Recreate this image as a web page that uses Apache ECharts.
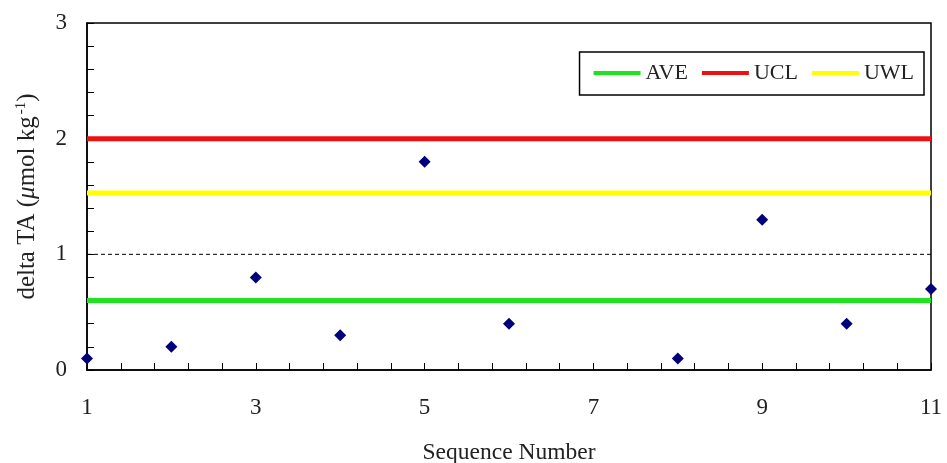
<!DOCTYPE html>
<html>
<head>
<meta charset="utf-8">
<script src="https://cdn.jsdelivr.net/npm/echarts@6/dist/echarts.min.js"></script>
<style>html,body{margin:0;padding:0;background:#fff;}#c{width:947px;height:463px;}</style>
</head>
<body>
<div id="c"></div>
<script>
// Data
var sequenceNumbers = [1, 2, 3, 4, 5, 6, 8, 9, 10, 11];
var deltaTA = [0.1, 0.2, 0.8, 0.3, 1.8, 0.4, 0.1, 1.3, 0.4, 0.7];
var aveValue = 0.6;
var uclValue = 2.0;
var uwlValue = 1.53;
var refValue = 1.0;
var xRange = [1, 11];
var yRange = [0, 3];

var font = '"Liberation Serif", "Times New Roman", serif';
var txt = '#222';

function hline(v) { return [[xRange[0], v], [xRange[1], v]]; }

var chart = echarts.init(document.getElementById('c'));
chart.setOption({
  animation: false,
  backgroundColor: '#fff',
  grid: { left: 87, right: 16, top: 23, bottom: 93, show: true, borderColor: '#000', borderWidth: 1.5,
          backgroundColor: 'transparent', containLabel: false, outerBoundsMode: 'none' },
  legend: {
    right: 23, top: 52,
    data: ['AVE', 'UCL', 'UWL'],
    icon: 'rect', itemWidth: 47, itemHeight: 4, itemGap: 14,
    borderColor: '#000', borderWidth: 1.5, padding: [10, 10, 11, 14],
    textStyle: { fontFamily: font, fontSize: 22, color: txt }
  },
  xAxis: {
    type: 'value', min: xRange[0], max: xRange[1], interval: 2,
    name: 'Sequence Number', nameLocation: 'middle', nameGap: 71,
    nameTextStyle: { fontFamily: font, fontSize: 23.5, color: txt },
    axisLine: { lineStyle: { color: '#000', width: 1.5 } },
    axisTick: { inside: true, length: 7, lineStyle: { color: '#000' } },
    minorTick: { show: true, splitNumber: 5, length: 7, lineStyle: { color: '#000' } },
    axisLabel: { fontFamily: font, fontSize: 23, color: txt, margin: 26 },
    splitLine: { show: false }
  },
  yAxis: {
    type: 'value', min: yRange[0], max: yRange[1], interval: 1,
    name: '{t|delta TA (}{i|μ}{t|mol kg}{s|-1}{t|)}', nameLocation: 'middle', nameGap: 46, nameRotate: 90,
    nameTextStyle: {
      fontFamily: font, fontSize: 25, color: txt,
      rich: {
        t: { fontFamily: font, fontSize: 25, color: txt },
        i: { fontFamily: font, fontSize: 25, color: txt, fontStyle: 'italic' },
        s: { fontFamily: font, fontSize: 15, color: txt, verticalAlign: 'top', padding: [0, 0, 12, 2] }
      }
    },
    axisLine: { lineStyle: { color: '#000', width: 1.5 } },
    axisTick: { inside: true, length: 7, lineStyle: { color: '#000' } },
    minorTick: { show: true, splitNumber: 5, length: 7, lineStyle: { color: '#000' } },
    axisLabel: { fontFamily: font, fontSize: 23, color: txt, margin: 20 },
    splitLine: { show: false }
  },
  series: [
    { name: 'REF', type: 'line', data: hline(refValue), symbol: 'none', silent: true,
      lineStyle: { color: '#000', width: 1, type: [4, 3] } },
    { name: 'AVE', type: 'line', data: hline(aveValue), symbol: 'none',
      itemStyle: { color: '#1ee31e' }, lineStyle: { color: '#1ee31e', width: 5 } },
    { name: 'UCL', type: 'line', data: hline(uclValue), symbol: 'none',
      itemStyle: { color: '#ee1111' }, lineStyle: { color: '#ee1111', width: 5 } },
    { name: 'UWL', type: 'line', data: hline(uwlValue), symbol: 'none',
      itemStyle: { color: '#ffff00' }, lineStyle: { color: '#ffff00', width: 5 } },
    { name: 'delta', type: 'scatter', symbol: 'diamond', symbolSize: 12,
      data: sequenceNumbers.map(function (s, i) { return [s, deltaTA[i]]; }),
      itemStyle: { color: '#00007a', opacity: 1 }, z: 5 }
  ]
});
</script>
</body>
</html>
